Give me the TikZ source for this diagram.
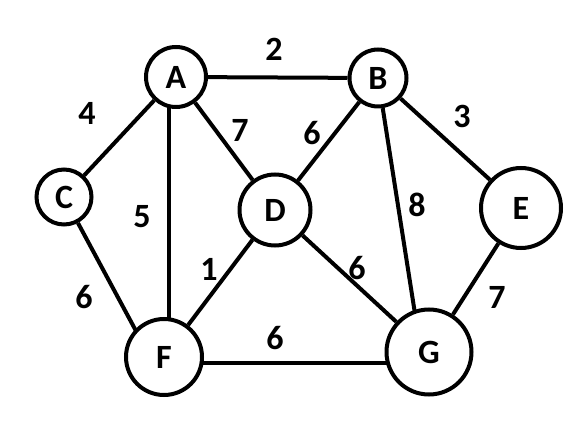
\documentclass[tikz,border=0pt]{standalone}
\usepackage{fontspec}
\setmainfont{Carlito}
\usetikzlibrary{backgrounds}
\begin{document}
\begin{tikzpicture}[x=1pt,y=-1pt,
  vtx/.style={circle,draw,line width=4pt,fill=white,inner sep=0pt,font=\fontsize{34}{34}\selectfont\bfseries},
  wlbl/.style={inner sep=0pt,font=\fontsize{34}{34}\selectfont\bfseries},
  edge/.style={line width=4pt}]
\useasboundingbox (0,0) rectangle (581,438);
\node[vtx,minimum size=60pt] (A) at (176,77) {A};
\node[vtx,minimum size=57pt] (B) at (378,78) {B};
\node[vtx,minimum size=55pt] (C) at (64,197) {C};
\node[vtx,minimum size=71pt] (D) at (275,210) {D};
\node[vtx,minimum size=80pt] (E) at (521,208) {E};
\node[vtx,minimum size=76pt] (F) at (164,357) {F};
\node[vtx,minimum size=85pt] (G) at (429,352) {G};
\begin{scope}[on background layer]
  \draw[edge] (A) -- (B);
  \draw[edge] (A) -- (C);
  \draw[edge] ([xshift=-7pt]A.center) -- ([xshift=5pt]F.center);
  \draw[edge] (A) -- (D);
  \draw[edge] (B) -- (D);
  \draw[edge] (B) -- ([xshift=-8pt]G.center);
  \draw[edge] (B) -- (E);
  \draw[edge] (C) -- ([xshift=-14pt]F.center);
  \draw[edge] (D) -- (F);
  \draw[edge] (D) -- (G);
  \draw[edge] (E) -- (G);
  \draw[edge] ([yshift=-6pt]F.center) -- ([yshift=-11pt]G.center);
\end{scope}
\node[wlbl] (l2) at (274,49) {2};
\node[wlbl] (l4) at (87,113) {4};
\node[wlbl] (l7a) at (240,130) {7};
\node[wlbl] (l5) at (142,217) {5};
\node[wlbl] (l6a) at (312,133) {6};
\node[wlbl] (l3) at (462,116) {3};
\node[wlbl] (l8) at (417,205) {8};
\node[wlbl] (l6b) at (84,297) {6};
\node[wlbl] (l1) at (209,269) {1};
\node[wlbl] (l6c) at (275,338) {6};
\node[wlbl] (l6d) at (357,268) {6};
\node[wlbl] (l7b) at (497,297) {7};
\end{tikzpicture}
\end{document}
